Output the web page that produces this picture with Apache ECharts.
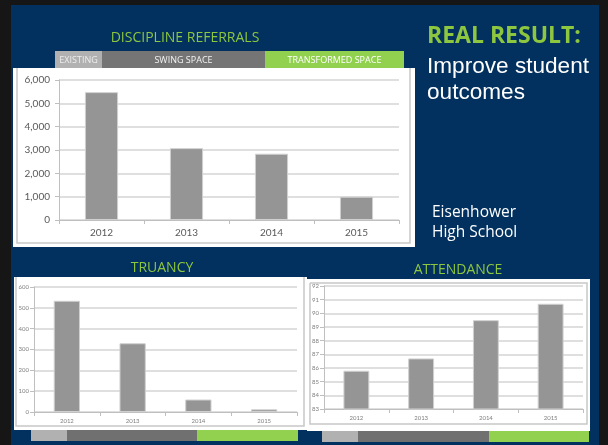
<!DOCTYPE html>
<html>
<head>
<meta charset="utf-8">
<title>Real result</title>
<script src="https://cdn.jsdelivr.net/npm/echarts@6/dist/echarts.min.js"></script>
<style>
  html, body { margin: 0; padding: 0; background: #161616; }
  #chart { width: 608px; height: 445px; }
</style>
</head>
<body>
<div id="chart"></div>
<script>
// data
const years = ['2012', '2013', '2014', '2015']
const referrals = [5480, 3080, 2840, 1000]
const truancy = [534, 330, 60, 13]
const attendance = [85.8, 86.7, 89.5, 90.7]

const navy = '#03315f'
const green = '#8dc63f'
const barGreen = '#92d050'

const chart = echarts.init(document.getElementById('chart'))

function xAxisFor(gridIndex, fontSize, color) {
  return {
    type: 'category',
    gridIndex: gridIndex,
    data: years,
    axisLine: { lineStyle: { color: '#bfbfbf', width: 1 } },
    axisTick: { show: true, length: 4, lineStyle: { color: '#bfbfbf' } },
    axisLabel: { fontFamily: 'Lato', fontSize: fontSize, color: color, margin: fontSize > 8 ? 8 : 6 }
  }
}

function yAxisFor(gridIndex, min, max, interval, fontSize, color, fmt) {
  return {
    type: 'value',
    gridIndex: gridIndex,
    min: min,
    max: max,
    interval: interval,
    axisLine: { show: true, lineStyle: { color: '#bfbfbf', width: 1 } },
    axisTick: { show: true, length: 4, lineStyle: { color: '#bfbfbf' } },
    splitLine: { lineStyle: { color: '#d4d4d4', width: 1.5 } },
    axisLabel: { fontFamily: 'Lato', fontSize: fontSize, color: color, margin: fontSize > 8 ? 9 : 5, formatter: fmt }
  }
}

function barSeries(idx, data, width) {
  return {
    type: 'bar',
    xAxisIndex: idx,
    yAxisIndex: idx,
    data: data,
    barWidth: width,
    itemStyle: { color: '#959595', borderColor: '#d0d0d0', borderWidth: 1 },
    animation: false
  }
}

// slide decoration (panels, captions, colour strips)
function rect(x, y, w, h, fill, z) {
  return { type: 'rect', shape: { x: x, y: y, width: w, height: h }, style: { fill: fill }, z: z === undefined ? -5 : z }
}
function label(text, x, y, font, fill, align) {
  return {
    type: 'text', x: x, y: y, z: 10,
    style: { text: text, font: font, fill: fill, textAlign: align || 'left', textVerticalAlign: 'middle' }
  }
}
function border(points) {
  return { type: 'polyline', shape: { points: points }, style: { stroke: '#c8c8c8', lineWidth: 1.5, fill: null }, z: -4 }
}

chart.setOption({
  backgroundColor: '#161616',
  animation: false,
  grid: [
    { left: 59, top: 80, width: 340, height: 140 },
    { left: 34, top: 287, width: 263, height: 125 },
    { left: 324, top: 286, width: 259, height: 123 }
  ],
  xAxis: [
    xAxisFor(0, 10, '#595959'),
    xAxisFor(1, 6, '#7f7f7f'),
    xAxisFor(2, 6, '#7f7f7f')
  ],
  yAxis: [
    yAxisFor(0, 0, 6000, 1000, 10, '#595959', v => v.toLocaleString('en-US')),
    yAxisFor(1, 0, 600, 100, 6, '#7f7f7f'),
    yAxisFor(2, 83, 92, 1, 6, '#7f7f7f')
  ],
  series: [
    barSeries(0, referrals, '39%'),
    barSeries(1, truancy, '40%'),
    barSeries(2, attendance, '40%')
  ],
  graphic: [
    rect(11, 5, 588, 440, navy, -10),
    // panels
    rect(13, 68, 402, 179, '#ffffff'),
    rect(14, 277, 293, 153, '#ffffff'),
    rect(307, 279, 283, 152, '#ffffff'),
    border([[17, 68], [17, 243], [410, 243], [410, 68]]),
    border([[16, 277], [16, 426], [304, 426], [304, 277]]),
    border([[310, 283], [310, 424], [587, 424], [587, 283], [310, 283]]),
    // top strip
    rect(55, 51, 47, 17, '#b1b1b1', 2),
    rect(102, 51, 163, 17, '#757575', 2),
    rect(265, 51, 139, 17, barGreen, 2),
    label('EXISTING', 78.5, 60, '9px "Open Sans"', '#ececec', 'center'),
    label('SWING SPACE', 183.5, 60, '9px "Open Sans"', '#f2f2f2', 'center'),
    label('TRANSFORMED SPACE', 334.5, 60, '9px "Open Sans"', '#ffffff', 'center'),
    // bottom strips
    rect(31, 430, 36, 11, '#b1b1b1', 2),
    rect(67, 430, 130, 11, '#707070', 2),
    rect(197, 430, 101, 11, barGreen, 2),
    rect(322, 431, 36, 11, '#b1b1b1', 2),
    rect(358, 431, 131, 11, '#707070', 2),
    rect(489, 431, 100, 11, barGreen, 2),
    // captions
    label('DISCIPLINE REFERRALS', 185, 38, '14px "Open Sans"', green, 'center'),
    label('TRUANCY', 162, 268, '14px "Open Sans"', green, 'center'),
    label('ATTENDANCE', 458, 270, '14px "Open Sans"', green, 'center'),
    label('REAL RESULT:', 427, 36, 'bold 23px "Open Sans"', green),
    label('Improve student', 427, 67, '22.6px "Liberation Sans"', '#ffffff'),
    label('outcomes', 427, 93, '22.6px "Liberation Sans"', '#ffffff'),
    label('Eisenhower', 432, 213, '15.5px "Open Sans"', '#ffffff'),
    label('High School', 432, 233, '15.5px "Open Sans"', '#ffffff')
  ]
})
</script>
</body>
</html>
